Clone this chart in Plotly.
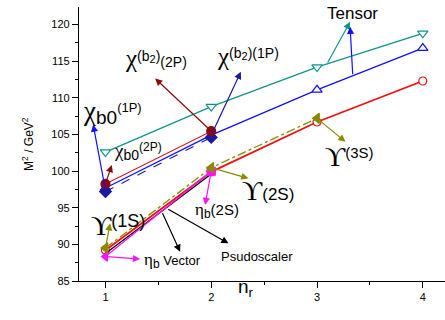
import plotly.graph_objects as go

nr = [1, 2, 3, 4]
tensor_cyan = [102.6, 108.8, 114.2, 118.8]
tensor_blue = [97.7, 104.9, 111.1, 116.8]
chi_b2_exp = [98.25, 105.45]
chi_b0_exp = [97.2, 104.6]
vector_theory = [89.2, 99.9, 106.7, 112.3]
upsilon_exp = [89.5, 100.46, 107.2]
pseudo_theory = [88.75, 99.6]
eta_b_exp = [88.34, 99.98]

x_ticks = [1, 2, 3, 4]
y_ticks = [85, 90, 95, 100, 105, 110, 115, 120]

fig = go.Figure()

def add(x, y, color, dash, symbol, filled, size=8, width=1.3):
    fig.add_trace(go.Scatter(
        x=x, y=y, mode="lines+markers",
        line=dict(color=color, width=width, dash=dash),
        marker=dict(symbol=symbol, size=size,
                    color=color if filled else "white",
                    line=dict(color=color, width=1.2)),
        showlegend=False, cliponaxis=False))

add(nr, tensor_cyan, "#0e958a", "solid", "triangle-down", False, 9)
add(nr, tensor_blue, "#1010ff", "solid", "triangle-up", False, 9)
add(nr[:2], chi_b0_exp, "#1a1aa0", "dash", "diamond", True, 9, 1.1)
add(nr[:2], chi_b2_exp, "#d02020", "solid", "circle", True, 9, 1.1)
fig.data[-1].marker.color = "#8b0a0a"
fig.data[-1].marker.line.color = "#8b0a0a"
add(nr, vector_theory, "#ee1111", "solid", "circle", False, 8, 1.8)
add(nr[:2], pseudo_theory, "#000000", "solid", "circle", False, 1, 1.3)
add(nr[:2], eta_b_exp, "#ff10ff", "solid", ["triangle-left", "square"], True, 8, 1.3)
add(nr[:3], upsilon_exp, "#8a8a00", "dashdot", "triangle-left", True, 9, 1.3)

def arrow(hx, hy, tx, ty, color):
    fig.add_annotation(x=hx, y=hy, ax=tx, ay=ty, xref="x", yref="y",
                       axref="x", ayref="y", text="", showarrow=True,
                       arrowhead=2, arrowsize=1.2, arrowwidth=1.2,
                       arrowcolor=color, standoff=0, startstandoff=0)

arrow(3.313, 120.37, 3.093, 114.63, "#0e958a")
arrow(3.313, 119.69, 3.338, 113.03, "#1010ff")
arrow(2.280, 113.55, nr[1], chi_b0_exp[1] + 0.3, "#1a1aa0")
arrow(1.470, 112.65, nr[1], chi_b2_exp[1], "#8b0a0a")
arrow(0.884, 106.35, nr[0], chi_b0_exp[0] + 0.2, "#1010ff")
arrow(1.060, 100.83, nr[0], chi_b2_exp[0], "#8b0a0a")
arrow(1.044, 92.87, nr[0], upsilon_exp[0], "#8a8a00")
arrow(1.328, 88.0, nr[0], eta_b_exp[0], "#ff10ff")
arrow(1.942, 95.37, nr[1], eta_b_exp[1], "#ff10ff")
arrow(2.352, 99.01, nr[1], upsilon_exp[1], "#8a8a00")
arrow(3.269, 104.0, nr[2], upsilon_exp[2], "#8a8a00")
arrow(1.706, 89.0, 1.533, 94.45, "#000000")
arrow(2.163, 90.14, 1.580, 94.92, "#000000")

SER = "font-family:'Liberation Serif','DejaVu Serif',serif;"

def big(ch, px):
    return f"<span style=\"{SER}font-size:{px}px\">{ch}</span>"

def sz(t, px):
    return f"<span style=\"font-size:{px}px\">{t}</span>"

def label(x, y, text, size=14, anchor="left"):
    fig.add_annotation(x=x, y=y, xref="x", yref="y", text=text,
                       showarrow=False, xanchor=anchor, yanchor="middle",
                       font=dict(family="Liberation Sans, Arial", size=size,
                                 color="black"))

label(3.332, 121.56, "Tensor", 17, "center")
label(2.037, 115.6, big("χ", 25) + "<sup>" + sz("(b", 14) + "<sub>" + sz("2", 11) + "</sub>" + sz(")(1P)", 14) + "</sup>", 17)
label(1.167, 115.4, big("χ", 25) + "<sup>" + sz("(b", 14) + "<sub>" + sz("2", 11) + "</sub>" + sz(")", 14) + "</sup>" + sz("(2P)", 14), 15)
label(0.770, 108.1, big("χ", 27) + "<sub>" + sz("b0", 19) + "</sub><sup>" + sz("(1P)", 13) + "</sup>", 18)
label(1.063, 102.7, big("χ", 19) + "<sub>" + sz("b0", 14) + "</sub><sup>" + sz("(2P)", 12) + "</sup>", 14)
label(0.846, 92.6, big("ϒ", 28) + "<sup>" + sz("(1S)", 18) + "</sup>", 20)
label(1.348, 87.86, big("η", 17) + "<sub>" + sz("b", 12) + "</sub>" + " " + sz("Vector", 13), 13)
label(1.829, 94.6, big("η", 17) + "<sub>" + sz("b", 12) + "</sub>" + sz("(2S)", 15), 14)
label(2.273, 97.41, big("ϒ", 28) + sz("(2S)", 17), 15)
label(3.058, 102.0, big("ϒ", 28) + "<sup>" + sz("(3S)", 15) + "</sup>", 19)
label(2.075, 88.41, "Psudoscaler", 13)

fig.add_annotation(x=0.455, y=-0.077, xref="paper", yref="paper",
                   text="n<sub>r</sub>", showarrow=False,
                   font=dict(family="Liberation Sans, Arial", size=19, color="black"))
fig.add_annotation(x=-0.167, y=0.5, xref="paper", yref="paper",
                   text="M<sup>2</sup> / GeV<sup>2</sup>", showarrow=False,
                   textangle=-90,
                   font=dict(family="Liberation Sans, Arial", size=12, color="black"))

axis_common = dict(showline=True, linecolor="black", linewidth=1.3,
                   ticks="outside", ticklen=6, tickwidth=1.2, tickcolor="black",
                   showgrid=False, zeroline=False, mirror=False,
                   tickfont=dict(family="Liberation Sans, Arial", size=11, color="black"))

fig.update_xaxes(range=[0.75, 4.21], tickvals=x_ticks,
                 minor=dict(dtick=0.5, tick0=0, ticks="outside", ticklen=3,
                            tickcolor="black"),
                 **axis_common)
fig.update_yaxes(range=[85, 122.4], tickvals=y_ticks,
                 minor=dict(dtick=2.5, tick0=0, ticks="outside", ticklen=3,
                            tickcolor="black"),
                 **axis_common)

fig.update_layout(width=445, height=320,
                  margin=dict(l=79, r=0, t=7, b=39),
                  plot_bgcolor="white", paper_bgcolor="white")

fig.write_html("out.html", config={"displayModeBar": False},
               post_script="document.body.style.margin='0';document.body.style.overflow='hidden';")
